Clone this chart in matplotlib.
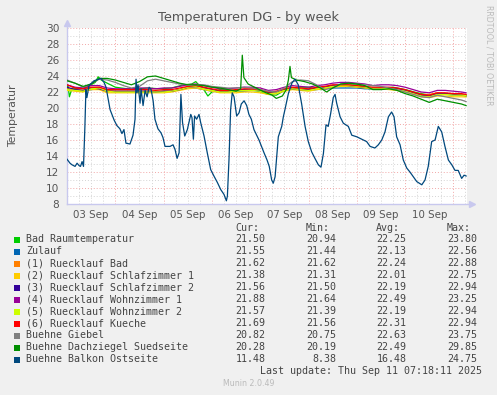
import matplotlib
matplotlib.use('Agg')
import matplotlib.pyplot as plt
from matplotlib.patches import Rectangle
from matplotlib.lines import Line2D

# ---------------- data (hours since 03 Sep 00:00) ----------------
grid_hours = [0, 4, 8, 12, 16, 20, 24, 28, 32, 36, 40, 44, 48, 52, 56, 60, 64, 68, 72, 76,
              80, 84, 88, 92, 96, 100, 104, 108, 112, 116, 120, 124, 128, 132, 136, 140,
              144, 148, 152, 156, 160, 164, 168, 172, 176, 180, 184, 188, 192, 196, 198.3]

zulauf = [22.3,22.2,22.1,22.3,22.4,22.1,22.0,22.0,22.0,22.0, 22.0,22.0,22.1,22.1,22.3,22.5,22.5,22.3,22.1,22.0,
          22.0,22.1,22.1,22.2,22.1,21.9,22.0,22.2,22.4,22.3, 22.2,22.3,22.4,22.5,22.5,22.5,22.5,22.4,22.4,22.4,
          22.4,22.3,22.1,21.8,21.6,21.5,21.7,21.7,21.6,21.6,21.55]
rl_bad = [22.4,22.3,22.2,22.5,22.6,22.2,22.1,22.1,22.1,22.1, 22.1,22.1,22.1,22.1,22.3,22.6,22.7,22.5,22.3,22.1,
          22.1,22.2,22.3,22.3,22.2,21.9,22.0,22.3,22.5,22.4, 22.3,22.5,22.6,22.8,22.8,22.8,22.7,22.6,22.5,22.5,
          22.5,22.4,22.2,21.9,21.7,21.7,21.9,21.8,21.7,21.7,21.62]
rl_sz1 = [22.2,22.1,22.0,22.3,22.3,21.9,21.9,21.9,21.9,21.9, 21.9,21.9,21.9,22.0,22.2,22.4,22.5,22.3,22.1,21.9,
          21.9,21.9,22.0,22.0,21.9,21.7,21.8,22.1,22.3,22.2, 22.1,22.3,22.4,22.6,22.7,22.7,22.6,22.5,22.4,22.4,
          22.3,22.2,22.0,21.7,21.4,21.3,21.5,21.5,21.4,21.4,21.38]
rl_sz2 = [22.6,22.3,22.2,22.5,22.4,22.1,22.1,22.1,22.1,22.1, 22.1,22.0,22.1,22.1,22.3,22.6,22.7,22.5,22.3,22.1,
          22.1,22.2,22.3,22.2,22.2,21.9,22.0,22.3,22.4,22.3, 22.3,22.5,22.6,22.8,22.9,22.8,22.7,22.6,22.5,22.5,
          22.5,22.4,22.2,21.9,21.6,21.5,21.8,21.8,21.7,21.6,21.56]
rl_wz1 = [22.9,22.6,22.5,22.8,22.8,22.5,22.4,22.4,22.4,22.5, 22.5,22.4,22.5,22.5,22.7,22.9,23.0,22.8,22.6,22.4,
          22.4,22.5,22.6,22.6,22.5,22.2,22.3,22.6,22.8,22.7, 22.6,22.8,22.9,23.1,23.2,23.2,23.1,23.0,22.8,22.9,
          22.9,22.8,22.6,22.3,22.0,21.9,22.2,22.2,22.1,22.0,21.9]
rl_wz2 = [22.3,22.2,22.1,22.4,22.5,22.1,22.0,22.0,22.0,22.0, 22.0,22.0,22.0,22.1,22.3,22.6,22.7,22.4,22.2,22.0,
          22.0,22.1,22.2,22.2,22.1,21.8,21.9,22.2,22.4,22.3, 22.2,22.4,22.5,22.7,22.8,22.8,22.7,22.6,22.5,22.5,
          22.4,22.3,22.1,21.8,21.5,21.4,21.7,21.7,21.6,21.6,21.57]
rl_kue = [22.9,22.5,22.4,22.6,22.6,22.3,22.3,22.3,22.3,22.3, 22.3,22.2,22.3,22.3,22.5,22.7,22.8,22.6,22.4,22.2,
          22.2,22.3,22.4,22.4,22.3,22.0,22.1,22.4,22.6,22.5, 22.4,22.6,22.7,22.9,22.9,22.9,22.8,22.7,22.6,22.6,
          22.6,22.5,22.3,22.0,21.7,21.6,21.9,21.9,21.8,21.8,21.7]
giebel = [23.5,23.1,22.6,23.0,23.6,23.5,23.2,22.8,22.5,22.7, 23.4,23.6,23.4,23.2,23.0,22.9,22.9,22.9,22.7,22.6,
          22.5,22.5,22.6,22.5,22.3,22.1,22.0,22.5,23.3,23.5, 23.4,22.9,22.3,22.5,23.0,23.1,23.0,22.9,22.8,22.7,
          22.5,22.3,22.0,21.7,21.4,21.3,21.6,21.4,21.2,21.0,20.8]

bad_hours = [0,0.5,1.2,2.5,6,10,14,15.5,17,20, 24,30,36,40,46,52,58,62,64,65,
             67,70,72,76,82,88,94,100,104,108, 114,120,126,132,138,144,150,156,162,168,
             174,180,186,192,198.3]
bad_raum = [22.4,22.8,21.4,22.5,22.4,22.6,23.2,23.9,23.5,23.1, 22.6,22.4,22.4,22.5,22.4,22.5,22.9,23.0,23.3,23.0,
            22.7,21.5,22.0,22.3,22.2,22.2,22.2,21.7,21.6,22.2, 22.6,22.6,22.3,22.6,23.0,23.0,22.4,22.4,22.6,22.3,
            21.9,21.6,21.8,21.7,21.5]

dach_hours = [0,4,8,12,16,20,24,28,32,36, 40,44,48,52,56,60,64,68,72,76,
              80,84,86.3,87.1,87.9,90,94,98,102,104, 107,109,110.0,110.8,111.5,114,118,122,126,129,
              132,136,140,144,148,152,156,160,164,168, 172,176,180,184,188,192,196,198.3]
dachziegel = [23.4,23.1,22.7,23.0,23.7,23.7,23.5,23.2,22.9,23.3, 23.9,24.0,23.7,23.4,23.1,22.9,22.9,22.8,22.6,22.5,
              22.3,22.1,22.4,26.6,23.8,23.0,22.5,22.0,21.6,21.2, 21.5,22.3,23.5,25.2,23.8,23.5,23.3,23.0,22.5,22.0,
              22.5,23.0,23.1,23.0,22.8,22.3,22.3,22.4,22.2,21.8, 21.5,21.1,20.7,21.1,20.9,20.7,20.5,20.3]

balkon_hours = [0,1.5,2.5,4,5,6,6.7,7.5,8.2,8.9, 9.4,9.9,10.9,13.4,16.9,18.4,19.4,21.4,23.4,24.8,
                26.3,27.3,28.3,29.3,31.3,32.8,33.8,34.3,34.8,35.3, 36.3,36.8,37.8,38.8,39.8,40.8,41.8,42.8,43.7,45.2,
                46.7,47.7,48.7,51.2,52.7,53.7,54.7,55.7,56.6,57.4, 58.5,59.8,61.5,62.1,62.8,63.4,64.4,65.6,66.4,68.1,
                69.7,71.4,73.0,74.7,76.4,78.0,79.2,79.7,80.5,81.3, 82.1,83.0,84.3,85.5,86.6,88.0,89.3,90.4,91.6,92.9,
                95.4,97.9,99.4,100.5,101.7,102.5,103.4,105.0,106.7,107.5, 108.3,110.0,111.7,113.3,114.9,116.6,118.3,119.9,121.6,123.2,
                124.9,126.2,127.4,128.7,129.8,131.0,132.3,133.2,134.0,135.7, 137.3,139.8,141.5,144.0,146.4,148.9,150.6,153.0,154.7,156.4,
                158.0,159.7,161.3,162.5,163.8,165.5,167.1,168.8,170.4,172.1, 173.8,176.3,177.9,179.5,181.2,182.9,184.5,186.2,187.8,189.5,
                191.2,192.8,194.4,196.1,197.3,198.3]
balkon = [13.6,13.1,12.9,12.7,13.1,12.8,12.7,13.3,12.7,17.7, 22.3,21.3,22.8,23.4,23.7,23.2,22.6,19.8,18.5,17.8,
          17.4,16.8,17.3,15.6,15.5,16.6,18.6,23.6,21.9,22.9, 20.6,22.4,20.3,22.2,21.4,22.6,22.3,20.9,18.6,17.4,
          16.9,16.3,15.2,15.2,15.4,14.8,13.7,14.4,21.7,18.2, 16.5,17.3,19.2,18.8,16.1,19.0,18.6,19.2,18.2,16.5,
          14.4,12.3,11.5,10.7,9.8,9.2,8.4,9.0,13.6,19.8, 21.9,21.4,19.0,19.4,20.5,20.9,20.3,19.2,18.6,17.3,
          16.0,14.4,13.5,12.7,11.0,10.6,11.4,16.4,17.7,18.9, 19.8,21.8,23.1,23.6,22.9,20.5,17.7,15.8,14.5,13.7,
          12.9,12.6,14.3,17.9,17.7,19.3,21.3,21.7,20.6,18.9, 18.1,17.7,16.6,16.4,16.1,15.8,15.2,15.0,15.4,16.0,
          17.0,18.9,19.5,18.9,16.4,15.4,13.5,12.5,12.0,11.4, 10.8,10.4,11.0,12.7,15.8,16.0,17.7,17.0,15.2,13.5,
          12.9,12.2,12.2,11.2,11.6,11.5]

day_labels = ['03 Sep', '04 Sep', '05 Sep', '06 Sep', '07 Sep', '08 Sep', '09 Sep', '10 Sep']

legend_names = ['Bad Raumtemperatur', 'Zulauf', '(1) Ruecklauf Bad', '(2) Ruecklauf Schlafzimmer 1',
                '(3) Ruecklauf Schlafzimmer 2', '(4) Ruecklauf Wohnzimmer 1', '(5) Ruecklauf Wohnzimmer 2',
                '(6) Ruecklauf Kueche', 'Buehne Giebel', 'Buehne Dachziegel Suedseite', 'Buehne Balkon Ostseite']
cur_vals = ['21.50', '21.55', '21.62', '21.38', '21.56', '21.88', '21.57', '21.69', '20.82', '20.28', '11.48']
min_vals = ['20.94', '21.44', '21.62', '21.31', '21.50', '21.64', '21.39', '21.56', '20.75', '20.19', '8.38']
avg_vals = ['22.25', '22.13', '22.24', '22.01', '22.19', '22.49', '22.19', '22.31', '22.63', '22.49', '16.48']
max_vals = ['23.80', '22.56', '22.88', '22.75', '22.94', '23.25', '22.94', '22.94', '23.75', '29.85', '24.75']
colors = ['#00CC00', '#0066B3', '#FF8000', '#FFCC00', '#330099', '#990099', '#CCFF00', '#FF0000',
          '#808080', '#008F00', '#00487D']

series = [(bad_hours, bad_raum), (grid_hours, zulauf), (grid_hours, rl_bad), (grid_hours, rl_sz1),
          (grid_hours, rl_sz2), (grid_hours, rl_wz1), (grid_hours, rl_wz2), (grid_hours, rl_kue),
          (grid_hours, giebel), (dach_hours, dachziegel), (balkon_hours, balkon)]

# ---------------- figure ----------------
W, H = 497, 395
fig = plt.figure(figsize=(W / 100, H / 100), dpi=100, facecolor='#F0F0F0')
L, R, T, B = 67, 467, 28, 204
ax = fig.add_axes([L / W, 1 - B / H, (R - L) / W, (B - T) / H])
ax.set_facecolor('white')
XMAX = (R - L) / 2.0125
ax.set_xlim(0, XMAX)
ax.set_ylim(8, 30)

txtc = '#555555'
# grid
for v in range(9, 30, 2):
    ax.axhline(v, color='#D4D4D4', lw=0.7, dashes=(1, 2), zorder=0)
for v in range(8, 31, 2):
    ax.axhline(v, color='#F2A8A8', lw=0.7, dashes=(1, 2), zorder=0)
for h in range(6, int(XMAX) + 1, 6):
    if h % 24:
        ax.axvline(h, color='#D4D4D4', lw=0.7, dashes=(1, 2), zorder=0)
for h in range(0, int(XMAX) + 1, 24):
    ax.axvline(h, color='#F2A8A8', lw=0.7, dashes=(1, 2), zorder=0)
ax.axvline(XMAX, color='#F2A8A8', lw=0.7, dashes=(1, 2), zorder=0)

for (t, v), c in zip(series, colors):
    ax.plot(t, v, color=c, lw=0.9, zorder=3, solid_joinstyle='round')

for s in ax.spines.values():
    s.set_visible(False)
ax.set_yticks(range(8, 31, 2))
ax.set_yticklabels([str(v) for v in range(8, 31, 2)])
ax.set_xticks([12 + 24 * i for i in range(len(day_labels))])
ax.set_xticklabels(day_labels)
ax.tick_params(axis='y', length=0, pad=5.5, labelsize=7.6, labelcolor=txtc)
ax.tick_params(axis='x', length=0, pad=4, labelsize=7.4, labelcolor=txtc)

# axis lines with arrows
axc = '#C8C8EE'
ax.add_line(Line2D([0, 0], [0, 1 + 4 / 176], transform=ax.transAxes, color=axc, lw=1.0, clip_on=False))
ax.add_line(Line2D([0, 1 + 3 / 400], [0, 0], transform=ax.transAxes, color=axc, lw=1.0, clip_on=False))
ax.plot([0], [1 + 5 / 176], marker='^', ms=4.5, color=axc, transform=ax.transAxes, clip_on=False)
ax.plot([1 + 5 / 400], [0], marker='>', ms=4.5, color=axc, transform=ax.transAxes, clip_on=False)


def ft(x, y, s, **kw):
    fig.text(x / W, 1 - y / H, s, **kw)


ft(248, 18, 'Temperaturen DG - by week', ha='center', va='center', fontsize=9.3, color='#555555')
ft(13, 116, 'Temperatur', ha='center', va='center', rotation=90, fontsize=7.8, color=txtc)
ft(489, 5, 'RRDTOOL / TOBI OETIKER', ha='center', va='top', rotation=-90, fontsize=5.7, color='#BBBBBB')

mono = dict(family='DejaVu Sans Mono', fontsize=7.2, color='#444444', va='center')
hy = 228
for xh, lab in zip([235, 306, 376, 447], ['Cur:', 'Min:', 'Avg:', 'Max:']):
    ft(xh, hy, lab, ha='left', **mono)
for i, name in enumerate(legend_names):
    y = 239.5 + 12 * i
    fig.add_artist(Rectangle((14 / W, 1 - (y + 3) / H), 6 / W, 6 / H, transform=fig.transFigure,
                             facecolor=colors[i], edgecolor='none'))
    ft(26.5, y, name, ha='left', **mono)
    ft(265.5, y, cur_vals[i], ha='right', **mono)
    ft(336, y, min_vals[i], ha='right', **mono)
    ft(406.5, y, avg_vals[i], ha='right', **mono)
    ft(477, y, max_vals[i], ha='right', **mono)
ft(482.5, 371, 'Last update: Thu Sep 11 07:18:11 2025', ha='right', **mono)
ft(249, 384, 'Munin 2.0.49', ha='center', va='center', fontsize=5.7, color='#BBBBBB')

fig.savefig('out.png', dpi=100, facecolor=fig.get_facecolor())
